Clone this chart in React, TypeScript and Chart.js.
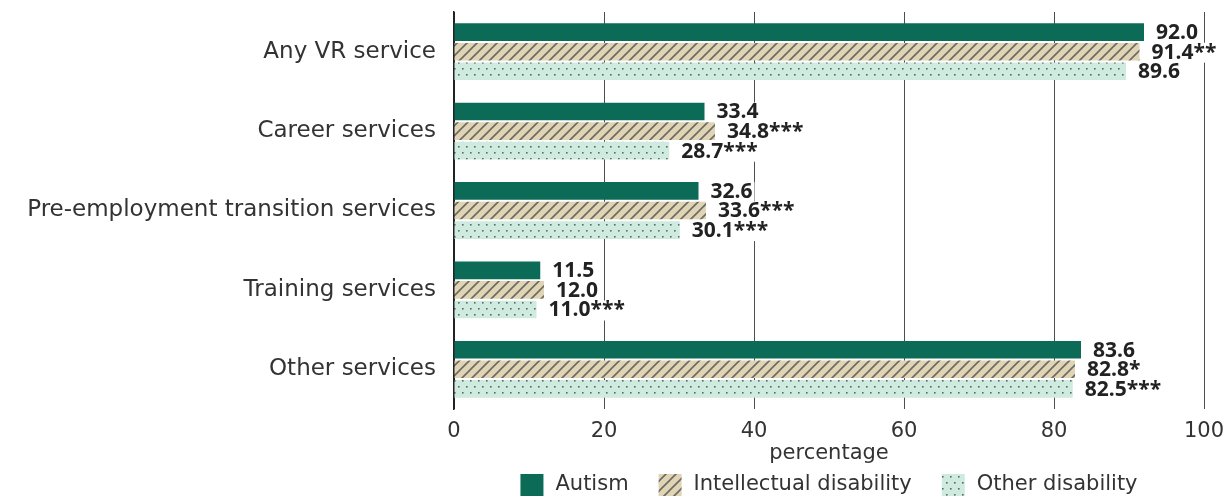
import React, { useEffect, useRef } from "react";
import { Chart, registerables } from "chart.js";

Chart.register(...registerables);

const categories = [
  "Any VR service",
  "Career services",
  "Pre-employment transition services",
  "Training services",
  "Other services",
];
const seriesNames = ["Autism", "Intellectual disability", "Other disability"];
const autismValues = [92.0, 33.4, 32.6, 11.5, 83.6];
const intellectualValues = [91.4, 34.8, 33.6, 12.0, 82.8];
const otherValues = [89.6, 28.7, 30.1, 11.0, 82.5];
const autismMarks = ["", "", "", "", ""];
const intellectualMarks = ["**", "***", "***", "", "*"];
const otherMarks = ["", "***", "***", "***", "***"];
const xTicks = [0, 20, 40, 60, 80, 100];
const axisTitle = "percentage";

const AUTISM_COLOR = "#0c6b57";
const LABEL_FONT = '"DejaVu Sans", sans-serif';
const VALUE_FONT = 'bold 21px "Open Sans", sans-serif';

function makeHatch(): CanvasPattern | string {
  const c = document.createElement("canvas");
  c.width = 10;
  c.height = 10;
  const g = c.getContext("2d");
  if (!g) return "#dfd3b1";
  g.fillStyle = "#e0d4b2";
  g.fillRect(0, 0, 10, 10);
  g.strokeStyle = "#6a6a6a";
  g.lineWidth = 1.6;
  g.beginPath();
  g.moveTo(-2, 12);
  g.lineTo(12, -2);
  g.moveTo(-7, 7);
  g.lineTo(7, -7);
  g.moveTo(3, 17);
  g.lineTo(17, 3);
  g.stroke();
  const p = g.createPattern(c, "repeat");
  return p || "#dfd3b1";
}

function makeDots(): CanvasPattern | string {
  const c = document.createElement("canvas");
  c.width = 8;
  c.height = 12;
  const g = c.getContext("2d");
  if (!g) return "#cdeadc";
  g.fillStyle = "#cfeadf";
  g.fillRect(0, 0, 8, 12);
  g.fillStyle = "#5a6a64";
  g.fillRect(2, 2, 1.6, 1.6);
  g.fillRect(6, 8, 1.6, 1.6);
  const p = g.createPattern(c, "repeat");
  return p || "#cdeadc";
}

const valueLabelsPlugin = {
  id: "valueLabels",
  afterDatasetsDraw(chart: any) {
    const ctx = chart.ctx;
    ctx.save();
    ctx.font = VALUE_FONT;
    ctx.textBaseline = "middle";
    ctx.textAlign = "left";
    const items: { text: string; x: number; y: number; w: number }[] = [];
    chart.data.datasets.forEach((ds: any, di: number) => {
      const meta = chart.getDatasetMeta(di);
      meta.data.forEach((bar: any, i: number) => {
        const text = Number(ds.data[i]).toFixed(1) + (ds.marks?.[i] || "");
        const x = bar.x + 12;
        const y = bar.y + 1;
        items.push({ text, x, y, w: ctx.measureText(text).width });
      });
    });
    ctx.fillStyle = "#ffffff";
    items.forEach((it) => ctx.fillRect(it.x - 2, it.y - 10, it.w + 4, 20));
    ctx.fillStyle = "#222222";
    items.forEach((it) => ctx.fillText(it.text, it.x, it.y));
    ctx.restore();
  },
};

const legendPlugin = {
  id: "customLegend",
  afterDraw(chart: any) {
    const ctx = chart.ctx;
    const area = chart.chartArea;
    ctx.save();
    ctx.font = `21px ${LABEL_FONT}`;
    ctx.textBaseline = "middle";
    ctx.textAlign = "left";
    const box = 23;
    const gapText = 12;
    const gapItem = 30;
    const items = chart.data.datasets.map((ds: any) => ({
      text: ds.label,
      fill: ds.backgroundColor,
      w: box + gapText + ctx.measureText(ds.label).width,
    }));
    const total =
      items.reduce((s: number, it: any) => s + it.w, 0) + gapItem * (items.length - 1);
    let x = (area.left + area.right) / 2 - total / 2;
    const cy = chart.height - 12;
    items.forEach((it: any) => {
      ctx.fillStyle = it.fill;
      ctx.fillRect(x, cy - 11, box, 22);
      ctx.fillStyle = "#333333";
      ctx.fillText(it.text, x + box + gapText, cy);
      x += it.w + gapItem;
    });
    ctx.restore();
  },
};

export default function App() {
  const ref = useRef<HTMLCanvasElement | null>(null);

  useEffect(() => {
    if (!ref.current) return;
    const chart = new Chart(ref.current, {
      type: "bar",
      data: {
        labels: categories,
        datasets: [
          {
            label: seriesNames[0],
            data: autismValues,
            backgroundColor: AUTISM_COLOR,
            marks: autismMarks,
          } as any,
          {
            label: seriesNames[1],
            data: intellectualValues,
            backgroundColor: makeHatch(),
            marks: intellectualMarks,
          } as any,
          {
            label: seriesNames[2],
            data: otherValues,
            backgroundColor: makeDots(),
            marks: otherMarks,
          } as any,
        ],
      },
      options: {
        indexAxis: "y",
        responsive: false,
        animation: false,
        categoryPercentage: 0.74,
        barPercentage: 0.9,
        layout: { padding: { top: 12, right: 27, bottom: 31, left: 0 } },
        plugins: {
          legend: { display: false },
          tooltip: { enabled: false },
        },
        scales: {
          x: {
            type: "linear",
            min: 0,
            max: 100,
            afterBuildTicks: (scale: any) => {
              scale.ticks = xTicks.map((v) => ({ value: v }));
            },
            afterFit: (scale: any) => {
              scale.height = 57;
              scale.paddingLeft = 0;
              scale.paddingRight = 0;
            },
            grid: {
              color: (c: any) => (c.tick && c.tick.value === 0 ? "#222222" : "#4e4e4e"),
              lineWidth: 1,
              drawTicks: false,
            },
            border: { display: false },
            ticks: {
              padding: 10,
              color: "#333333",
              font: { family: LABEL_FONT, size: 21 },
            },
            title: {
              display: true,
              text: axisTitle,
              color: "#333333",
              font: { family: LABEL_FONT, size: 21 },
              padding: 0,
            },
          },
          y: {
            type: "category",
            afterFit: (scale: any) => {
              scale.width = 454;
              scale.paddingTop = 0;
              scale.paddingBottom = 0;
            },
            grid: { display: false, drawTicks: false },
            border: { display: true, color: "#222222", width: 1.5 },
            ticks: {
              padding: 18,
              color: "#333333",
              font: { family: LABEL_FONT, size: 23 },
            },
          },
        },
      },
      plugins: [valueLabelsPlugin, legendPlugin],
    } as any);
    return () => chart.destroy();
  }, []);

  return (
    <div style={{ position: "absolute", left: 0, top: 0, width: 1231, height: 497 }}>
      <canvas ref={ref} width={1231} height={497} style={{ display: "block" }} />
    </div>
  );
}
